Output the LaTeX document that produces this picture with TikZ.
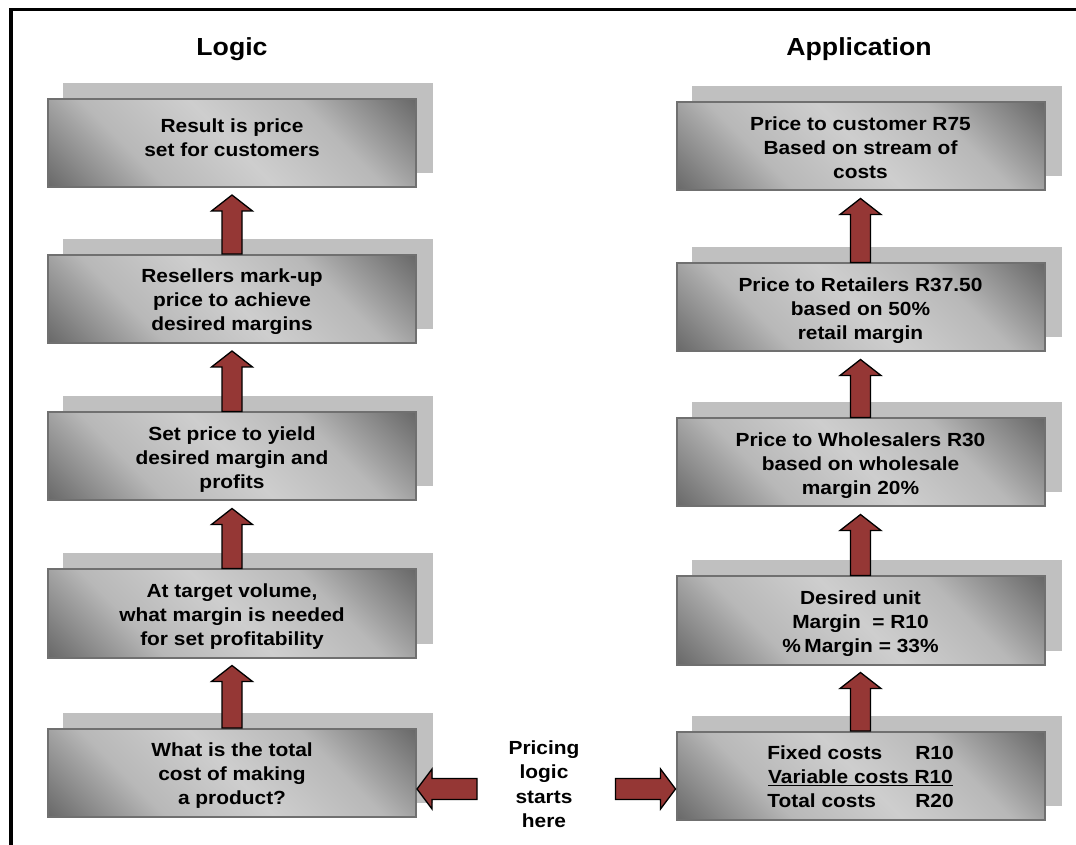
\documentclass[tikz,border=0pt]{standalone}
\usepackage{fontspec}
\setmainfont{Liberation Sans}
\usetikzlibrary{calc,backgrounds}

\definecolor{bdark}{RGB}{102,102,102}
\definecolor{bmid}{RGB}{184,184,184}
\definecolor{blight}{RGB}{206,206,206}
\definecolor{shadowgray}{RGB}{192,192,192}
\definecolor{boxline}{RGB}{112,112,112}
\definecolor{arrowred}{RGB}{149,55,53}

% diagonal dark-light-dark fill of the step boxes
\pgfdeclareverticalshading{boxshade}{100bp}{color(0bp)=(bdark); color(14bp)=(bdark); color(33bp)=(bmid); color(50bp)=(blight); color(67bp)=(bmid); color(86bp)=(bdark); color(100bp)=(bdark)}

% lowers its contents a little while keeping their declared size
\newcommand\lowered[1]{\raisebox{-3pt}[\height][\depth]{#1}}
% centred, slightly widened lines of text
\newcommand\plaintext[1]{\scalebox{1.1}[1]{\begin{tabular}{@{}c@{}}#1\end{tabular}}}
\newcommand\boxtext[1]{\lowered{\plaintext{#1}}}

% upward block arrow from the top of box #1 to just below box #2
\newcommand\upconnector[2]{%
  \draw[blockarrow] ($(#1.north)+(-10,0)$) -- ($(#2.south)+(-10,-23)$) -- ++(-10.5,0)
    -- ($(#2.south)+(0,-7)$) -- ($(#2.south)+(20.5,-23)$) -- ++(-10.5,0)
    -- ($(#1.north)+(10,0)$) -- cycle;}

\tikzset{
  pbox/.style={draw=boxline, line width=2pt, shade, shading=boxshade, shading angle=-45,
    minimum width=368pt, minimum height=88pt, inner sep=0pt,
    font=\fontsize{19}{24}\selectfont\bfseries, align=center},
  blockarrow/.style={fill=arrowred, draw=black, line width=1.3pt, line join=miter},
  heading/.style={font=\fontsize{24.7}{30}\selectfont\bfseries, inner sep=0pt},
  note/.style={font=\fontsize{19}{24.3}\selectfont\bfseries, inner sep=0pt},
}

\begin{document}
\begin{tikzpicture}[x=1pt,y=1pt]
\useasboundingbox (0,0) rectangle (1076,844);

% frame
\draw[line width=3.5pt, line join=miter] (11,-2) -- (11,834.5) -- (1078,834.5);

% column headings
\node[heading, anchor=base] (tlogic) at (232,788) {\scalebox{1.08}[1]{Logic}};
\node[heading, anchor=base] (tapp) at (859,788) {\scalebox{1.08}[1]{Application}};

% logic column
\node[pbox] (b1) at (232,701) {\raisebox{3pt}[\height][\depth]{\plaintext{Result is price\\set for customers}}};
\node[pbox] (b2) at (232,545) {\boxtext{Resellers mark-up\\price to achieve\\desired margins}};
\node[pbox] (b3) at (232,387.5) {\boxtext{Set price to yield\\desired margin and\\profits}};
\node[pbox] (b4) at (232,230.5) {\boxtext{At target volume,\\what margin is needed\\for set profitability}};
\node[pbox] (b5) at (232,71) {\boxtext{What is the total\\cost of making\\a product?}};

% application column
\node[pbox] (r1) at (860.5,697.5) {\boxtext{Price to customer R75\\Based on stream of\\costs}};
\node[pbox] (r2) at (860.5,536.5) {\boxtext{Price to Retailers R37.50\\based on 50\%\\retail margin}};
\node[pbox] (r3) at (860.5,381.5) {\boxtext{Price to Wholesalers R30\\based on wholesale\\margin 20\%}};
\node[pbox] (r4) at (860.5,223.5) {\boxtext{Desired unit\\Margin\ \ = R10\\\%\,Margin = 33\%}};
\node[pbox] (r5) at (860.5,68) {\lowered{\scalebox{1.1}[1]{\begin{tabular}{@{}l@{\hspace{30pt}}r@{}}Fixed costs & R10\\\multicolumn{2}{@{}c@{}}{\underline{Variable costs R10}}\\Total costs & R20\end{tabular}}}};

% offset shadows behind the boxes
\begin{scope}[on background layer]
  \foreach \n in {b1,b2,b3,b4,b5,r1,r2,r3,r4,r5}
    \fill[shadowgray] ($(\n.south west)+(16,15)$) rectangle ($(\n.north east)+(16,15)$);
\end{scope}

% starting note
\node[note] (start) at (544,58) {\scalebox{1.1}[1]{\begin{tabular}{@{}c@{}}Pricing\\logic\\starts\\here\end{tabular}}};

% upward flow
\upconnector{b5}{b4}
\upconnector{b4}{b3}
\upconnector{b3}{b2}
\upconnector{b2}{b1}
\upconnector{r5}{r4}
\upconnector{r4}{r3}
\upconnector{r3}{r2}
\upconnector{r2}{r1}

% sideways arrows from the note to both starting boxes
\coordinate (tipL) at ($(b5.east)+(0,-16)$);
\coordinate (tipR) at ($(r5.west)+(0,-13)$);
\draw[blockarrow] (tipL) -- ++(15,20) -- ++(0,-9.5) -- ++(45,0) -- ++(0,-21)
  -- ++(-45,0) -- ++(0,-9.5) -- cycle;
\draw[blockarrow] (tipR) -- ++(-15,20) -- ++(0,-9.5) -- ++(-45,0) -- ++(0,-21)
  -- ++(45,0) -- ++(0,-9.5) -- cycle;
\end{tikzpicture}
\end{document}
